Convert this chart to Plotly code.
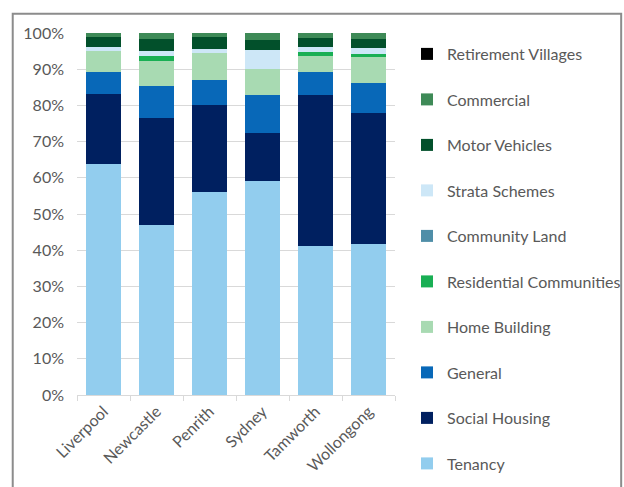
import plotly.graph_objects as go

# Share of cases (%) by tribunal registry and list type
registries = ["Liverpool", "Newcastle", "Penrith", "Sydney", "Tamworth", "Wollongong"]

tenancy = [63.9, 47.1, 56.2, 59.1, 41.2, 41.6]
social_housing = [19.3, 29.5, 23.8, 13.3, 41.7, 36.2]
general = [6.1, 8.8, 7.1, 10.4, 6.4, 8.4]
home_building = [5.8, 7.0, 7.5, 7.2, 4.3, 7.1]
residential_communities = [0.0, 1.2, 0.0, 0.0, 1.2, 1.0]
community_land = [0.0, 0.0, 0.0, 0.0, 0.0, 0.0]
strata_schemes = [1.0, 1.5, 0.9, 5.3, 1.2, 1.5]
motor_vehicles = [2.8, 3.3, 3.4, 2.7, 2.6, 2.6]
commercial = [1.1, 1.6, 1.1, 2.0, 1.4, 1.6]
retirement_villages = [0.0, 0.0, 0.0, 0.0, 0.0, 0.0]

y_ticks = [0, 10, 20, 30, 40, 50, 60, 70, 80, 90, 100]
y_tick_labels = [f"{v}%" for v in y_ticks]

series = [
    ("Tenancy", tenancy, "#92CDEE"),
    ("Social Housing", social_housing, "#002060"),
    ("General", general, "#0868B8"),
    ("Home Building", home_building, "#A8DAB2"),
    ("Residential Communities", residential_communities, "#19AF54"),
    ("Community Land", community_land, "#4F8EA8"),
    ("Strata Schemes", strata_schemes, "#CDE7F7"),
    ("Motor Vehicles", motor_vehicles, "#02502B"),
    ("Commercial", commercial, "#3E8A57"),
    ("Retirement Villages", retirement_villages, "#000000"),
]

W, H = 624, 487
ML, MR, MT, MB = 77, 218, 33, 88
FONT = "Lato"
GREY = "#595959"

fig = go.Figure()
for i, (name, vals, col) in enumerate(series):
    fig.add_trace(go.Bar(
        x=registries, y=vals, name=name, legendgroup=name,
        legendrank=1000 - i,
        marker=dict(color=col, line=dict(width=0)),
    ))

pw, ph = W - ML - MR, H - MT - MB


def px_x(p):
    return (p - ML) / pw


def px_y(p):
    return (H - MB - p) / ph


fig.update_layout(
    width=W, height=H,
    margin=dict(l=ML, r=MR, t=MT, b=MB),
    barmode="stack", bargap=0.35,
    paper_bgcolor="white", plot_bgcolor="white",
    font=dict(family=FONT, size=16, color=GREY),
    showlegend=True,
    legend=dict(
        xref="container", yref="container",
        x=407 / W, y=1 - 37 / H, xanchor="left", yanchor="top",
        traceorder="grouped", tracegroupgap=21.7, maxheight=480,
        font=dict(family=FONT, size=16, color=GREY),
        bgcolor="rgba(0,0,0,0)",
    ),
    xaxis=dict(
        showgrid=False, showline=True, linecolor="#D9D9D9", linewidth=1,
        ticks="outside", tickson="boundaries", ticklen=5, tickcolor="#D9D9D9",
        tickangle=-45, tickfont=dict(size=16, color=GREY),
    ),
    yaxis=dict(
        range=[0, 100], tickmode="array", tickvals=y_ticks, ticktext=y_tick_labels,
        showgrid=True, gridcolor="#D9D9D9", gridwidth=1,
        zeroline=False, showline=False, ticks="", ticklabelstandoff=12,
        tickfont=dict(size=16, color=GREY),
    ),
    shapes=[dict(
        type="rect", xref="paper", yref="paper",
        x0=px_x(10.5), x1=px_x(640), y0=px_y(500), y1=px_y(13.5),
        line=dict(color="#8C8C8C", width=2), fillcolor="rgba(0,0,0,0)",
        layer="below",
    )],
)

fig.write_html("out.html")
